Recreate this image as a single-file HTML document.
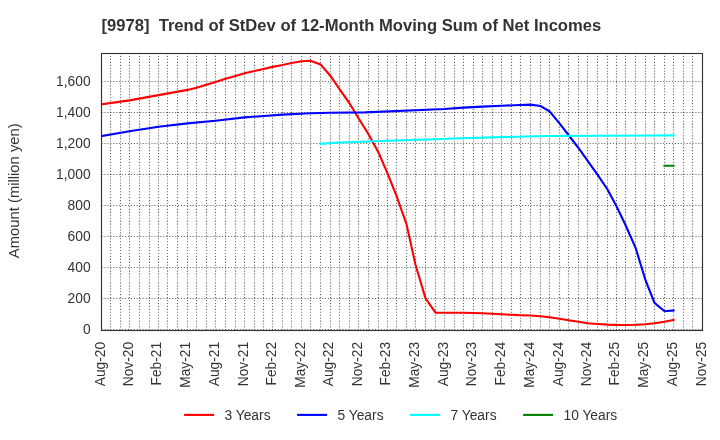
<!DOCTYPE html>
<html><head><meta charset="utf-8"><title>chart</title>
<style>
html,body{margin:0;padding:0;background:#fff;}
body{width:720px;height:440px;overflow:hidden;}
svg{display:block;will-change:transform;}
text{font-family:"Liberation Sans",sans-serif;fill:#333;}
.t{font-size:13.8px;}
.grid line{stroke:#000;stroke-opacity:0.6;stroke-width:1.11;stroke-dasharray:1.11 1.83;}
.ln{fill:none;stroke-width:2.1;stroke-linecap:square;stroke-linejoin:miter;}
</style></head><body>
<svg width="720" height="440" viewBox="0 0 720 440">
<rect width="720" height="440" fill="#fff"/>
<text x="101.5" y="31.0" style="font-size:16.6px;font-weight:bold;white-space:pre">[9978]  Trend of StDev of 12-Month Moving Sum of Net Incomes</text>
<g class="grid">
<line x1="101.5" y1="330.5" x2="101.5" y2="53.5"/>
<line x1="110.5" y1="330.5" x2="110.5" y2="53.5"/>
<line x1="120.5" y1="330.5" x2="120.5" y2="53.5"/>
<line x1="129.5" y1="330.5" x2="129.5" y2="53.5"/>
<line x1="139.5" y1="330.5" x2="139.5" y2="53.5"/>
<line x1="149.5" y1="330.5" x2="149.5" y2="53.5"/>
<line x1="158.5" y1="330.5" x2="158.5" y2="53.5"/>
<line x1="167.5" y1="330.5" x2="167.5" y2="53.5"/>
<line x1="177.5" y1="330.5" x2="177.5" y2="53.5"/>
<line x1="187.5" y1="330.5" x2="187.5" y2="53.5"/>
<line x1="196.5" y1="330.5" x2="196.5" y2="53.5"/>
<line x1="206.5" y1="330.5" x2="206.5" y2="53.5"/>
<line x1="215.5" y1="330.5" x2="215.5" y2="53.5"/>
<line x1="225.5" y1="330.5" x2="225.5" y2="53.5"/>
<line x1="235.5" y1="330.5" x2="235.5" y2="53.5"/>
<line x1="244.5" y1="330.5" x2="244.5" y2="53.5"/>
<line x1="254.5" y1="330.5" x2="254.5" y2="53.5"/>
<line x1="263.5" y1="330.5" x2="263.5" y2="53.5"/>
<line x1="272.5" y1="330.5" x2="272.5" y2="53.5"/>
<line x1="282.5" y1="330.5" x2="282.5" y2="53.5"/>
<line x1="291.5" y1="330.5" x2="291.5" y2="53.5"/>
<line x1="301.5" y1="330.5" x2="301.5" y2="53.5"/>
<line x1="310.5" y1="330.5" x2="310.5" y2="53.5"/>
<line x1="320.5" y1="330.5" x2="320.5" y2="53.5"/>
<line x1="330.5" y1="330.5" x2="330.5" y2="53.5"/>
<line x1="339.5" y1="330.5" x2="339.5" y2="53.5"/>
<line x1="349.5" y1="330.5" x2="349.5" y2="53.5"/>
<line x1="358.5" y1="330.5" x2="358.5" y2="53.5"/>
<line x1="368.5" y1="330.5" x2="368.5" y2="53.5"/>
<line x1="378.5" y1="330.5" x2="378.5" y2="53.5"/>
<line x1="387.5" y1="330.5" x2="387.5" y2="53.5"/>
<line x1="396.5" y1="330.5" x2="396.5" y2="53.5"/>
<line x1="406.5" y1="330.5" x2="406.5" y2="53.5"/>
<line x1="415.5" y1="330.5" x2="415.5" y2="53.5"/>
<line x1="425.5" y1="330.5" x2="425.5" y2="53.5"/>
<line x1="435.5" y1="330.5" x2="435.5" y2="53.5"/>
<line x1="444.5" y1="330.5" x2="444.5" y2="53.5"/>
<line x1="454.5" y1="330.5" x2="454.5" y2="53.5"/>
<line x1="463.5" y1="330.5" x2="463.5" y2="53.5"/>
<line x1="473.5" y1="330.5" x2="473.5" y2="53.5"/>
<line x1="482.5" y1="330.5" x2="482.5" y2="53.5"/>
<line x1="492.5" y1="330.5" x2="492.5" y2="53.5"/>
<line x1="501.5" y1="330.5" x2="501.5" y2="53.5"/>
<line x1="511.5" y1="330.5" x2="511.5" y2="53.5"/>
<line x1="520.5" y1="330.5" x2="520.5" y2="53.5"/>
<line x1="530.5" y1="330.5" x2="530.5" y2="53.5"/>
<line x1="540.5" y1="330.5" x2="540.5" y2="53.5"/>
<line x1="549.5" y1="330.5" x2="549.5" y2="53.5"/>
<line x1="559.5" y1="330.5" x2="559.5" y2="53.5"/>
<line x1="568.5" y1="330.5" x2="568.5" y2="53.5"/>
<line x1="578.5" y1="330.5" x2="578.5" y2="53.5"/>
<line x1="587.5" y1="330.5" x2="587.5" y2="53.5"/>
<line x1="597.5" y1="330.5" x2="597.5" y2="53.5"/>
<line x1="607.5" y1="330.5" x2="607.5" y2="53.5"/>
<line x1="616.5" y1="330.5" x2="616.5" y2="53.5"/>
<line x1="625.5" y1="330.5" x2="625.5" y2="53.5"/>
<line x1="635.5" y1="330.5" x2="635.5" y2="53.5"/>
<line x1="645.5" y1="330.5" x2="645.5" y2="53.5"/>
<line x1="654.5" y1="330.5" x2="654.5" y2="53.5"/>
<line x1="664.5" y1="330.5" x2="664.5" y2="53.5"/>
<line x1="673.5" y1="330.5" x2="673.5" y2="53.5"/>
<line x1="683.5" y1="330.5" x2="683.5" y2="53.5"/>
<line x1="692.5" y1="330.5" x2="692.5" y2="53.5"/>
<line x1="702.5" y1="330.5" x2="702.5" y2="53.5"/>
<line x1="101.5" y1="329.5" x2="702.5" y2="329.5"/>
<line x1="101.5" y1="298.5" x2="702.5" y2="298.5"/>
<line x1="101.5" y1="267.5" x2="702.5" y2="267.5"/>
<line x1="101.5" y1="236.5" x2="702.5" y2="236.5"/>
<line x1="101.5" y1="205.5" x2="702.5" y2="205.5"/>
<line x1="101.5" y1="174.5" x2="702.5" y2="174.5"/>
<line x1="101.5" y1="143.5" x2="702.5" y2="143.5"/>
<line x1="101.5" y1="112.5" x2="702.5" y2="112.5"/>
<line x1="101.5" y1="81.5" x2="702.5" y2="81.5"/>
</g>
<clipPath id="cp"><rect x="101.5" y="53.5" width="601.0" height="277.0"/></clipPath>
<g clip-path="url(#cp)">
<polyline class="ln" stroke="#f00" points="101.5,104.3 129.5,100.4 158.5,95.1 187.5,89.9 196.5,87.8 215.5,82.0 225.5,78.7 235.5,75.9 244.5,73.2 254.5,71.1 263.5,68.9 272.5,66.9 282.5,65.0 291.5,63.0 301.5,61.3 310.5,60.8 320.5,64.4 330.5,76.0 339.5,89.2 349.5,103.3 358.5,118.3 368.5,134.2 378.5,152.5 387.5,173.3 396.5,195.8 406.5,224.2 415.5,264.7 425.5,298.3 435.5,312.7 444.5,312.7 463.5,312.8 482.5,313.2 501.5,314.2 511.5,314.8 520.5,315.2 530.5,315.5 540.5,316.2 549.5,317.2 559.5,318.8 568.5,320.3 578.5,321.8 587.5,323.2 597.5,324.0 607.5,324.6 616.5,324.9 625.5,325.0 635.5,324.8 645.5,324.2 654.5,323.2 664.5,321.7 673.5,320.0"/>
<polyline class="ln" stroke="#00f" points="101.5,136.0 129.5,131.3 158.5,126.8 187.5,123.4 215.5,120.7 244.5,117.4 282.5,114.6 310.5,113.2 330.5,112.7 365.0,112.4 444.5,109.0 463.5,107.6 482.5,106.6 501.5,105.7 520.5,105.0 530.5,104.6 540.5,106.0 549.5,111.4 559.5,123.3 568.5,135.0 578.5,148.0 587.5,160.6 597.5,174.7 607.5,189.5 616.5,206.3 625.5,225.0 635.5,247.5 645.5,280.2 654.5,302.8 664.5,311.2 673.5,310.5"/>
<polyline class="ln" stroke="#0ff" points="320.5,143.8 339.5,142.5 410.0,140.0 430.0,139.5 460.0,138.3 535.0,136.2 549.5,136.0 654.5,135.5 673.5,135.4"/>
<polyline class="ln" stroke="#008000" points="664.5,165.8 673.5,165.8"/>
</g>
<rect x="101.5" y="53.5" width="601.0" height="277.0" fill="none" stroke="#333" stroke-width="1.11"/>
<text class="t" x="90.6" y="334.2" text-anchor="end">0</text>
<text class="t" x="90.6" y="303.2" text-anchor="end">200</text>
<text class="t" x="90.6" y="272.2" text-anchor="end">400</text>
<text class="t" x="90.6" y="241.2" text-anchor="end">600</text>
<text class="t" x="90.6" y="210.2" text-anchor="end">800</text>
<text class="t" x="90.6" y="179.2" text-anchor="end">1,000</text>
<text class="t" x="90.6" y="148.2" text-anchor="end">1,200</text>
<text class="t" x="90.6" y="117.2" text-anchor="end">1,400</text>
<text class="t" x="90.6" y="86.2" text-anchor="end">1,600</text>
<text class="t" transform="translate(104.6,341.8) rotate(-90)" text-anchor="end">Aug-20</text>
<text class="t" transform="translate(133.1,341.8) rotate(-90)" text-anchor="end">Nov-20</text>
<text class="t" transform="translate(161.3,341.8) rotate(-90)" text-anchor="end">Feb-21</text>
<text class="t" transform="translate(190.1,341.8) rotate(-90)" text-anchor="end">May-21</text>
<text class="t" transform="translate(219.0,341.8) rotate(-90)" text-anchor="end">Aug-21</text>
<text class="t" transform="translate(247.5,341.8) rotate(-90)" text-anchor="end">Nov-21</text>
<text class="t" transform="translate(275.7,341.8) rotate(-90)" text-anchor="end">Feb-22</text>
<text class="t" transform="translate(304.6,341.8) rotate(-90)" text-anchor="end">May-22</text>
<text class="t" transform="translate(333.4,341.8) rotate(-90)" text-anchor="end">Aug-22</text>
<text class="t" transform="translate(361.9,341.8) rotate(-90)" text-anchor="end">Nov-22</text>
<text class="t" transform="translate(390.1,341.8) rotate(-90)" text-anchor="end">Feb-23</text>
<text class="t" transform="translate(419.0,341.8) rotate(-90)" text-anchor="end">May-23</text>
<text class="t" transform="translate(447.8,341.8) rotate(-90)" text-anchor="end">Aug-23</text>
<text class="t" transform="translate(476.3,341.8) rotate(-90)" text-anchor="end">Nov-23</text>
<text class="t" transform="translate(504.9,341.8) rotate(-90)" text-anchor="end">Feb-24</text>
<text class="t" transform="translate(533.7,341.8) rotate(-90)" text-anchor="end">May-24</text>
<text class="t" transform="translate(562.6,341.8) rotate(-90)" text-anchor="end">Aug-24</text>
<text class="t" transform="translate(591.1,341.8) rotate(-90)" text-anchor="end">Nov-24</text>
<text class="t" transform="translate(619.3,341.8) rotate(-90)" text-anchor="end">Feb-25</text>
<text class="t" transform="translate(648.1,341.8) rotate(-90)" text-anchor="end">May-25</text>
<text class="t" transform="translate(677.0,341.8) rotate(-90)" text-anchor="end">Aug-25</text>
<text class="t" transform="translate(705.5,341.8) rotate(-90)" text-anchor="end">Nov-25</text>
<text transform="translate(18.8,190.7) rotate(-90)" text-anchor="middle" style="font-size:14.8px">Amount (million yen)</text>
<line x1="184.1" y1="414.9" x2="214.1" y2="414.9" stroke="#f00" stroke-width="2.1"/>
<text class="t" x="224.5" y="420">3 Years</text>
<line x1="297.1" y1="414.9" x2="327.1" y2="414.9" stroke="#00f" stroke-width="2.1"/>
<text class="t" x="337.5" y="420">5 Years</text>
<line x1="410.1" y1="414.9" x2="440.1" y2="414.9" stroke="#0ff" stroke-width="2.1"/>
<text class="t" x="450.5" y="420">7 Years</text>
<line x1="523.1" y1="414.9" x2="553.1" y2="414.9" stroke="#008000" stroke-width="2.1"/>
<text class="t" x="563.5" y="420">10 Years</text>
</svg>
</body></html>
